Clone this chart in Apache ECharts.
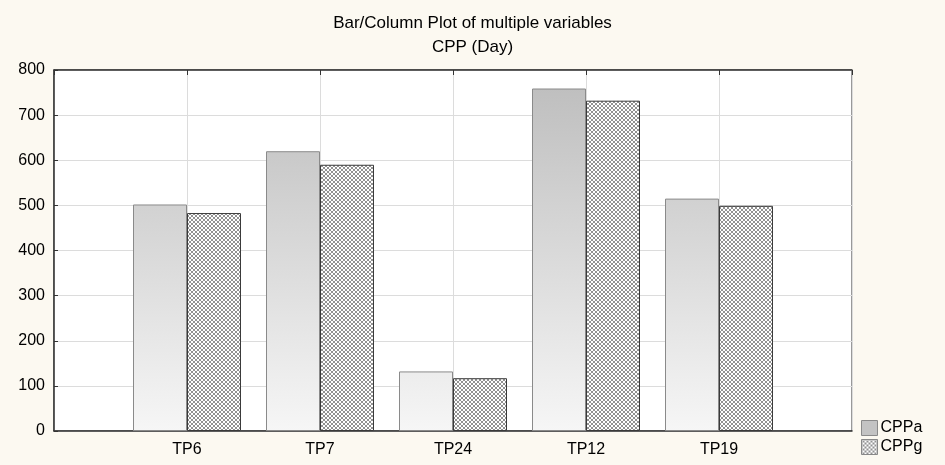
<!DOCTYPE html>
<html>
<head>
<meta charset="utf-8">
<script src="https://cdn.jsdelivr.net/npm/echarts@6/dist/echarts.min.js"></script>
<style>
html,body{margin:0;padding:0;background:#fcf9f1;}
#chart{width:945px;height:465px;}
</style>
</head>
<body>
<div id="chart"></div>
<script>
const categories = ['TP6', 'TP7', 'TP24', 'TP12', 'TP19'];
const cppa = [502, 620, 132, 759, 515];
const cppg = [483, 590, 117, 732, 499];
const yTicks = [0, 100, 200, 300, 400, 500, 600, 700, 800];

// padded category slots (empty slot at each end)
const cats = [''].concat(categories, ['']);
const pad = arr => [null].concat(arr, [null]);

// crosshatch pattern
const pc = document.createElement('canvas');
pc.width = 4; pc.height = 4;
const ctx = pc.getContext('2d');
ctx.fillStyle = '#ffffff';
ctx.fillRect(0, 0, 4, 4);
ctx.fillStyle = '#929292';
[[0,0],[1,1],[2,2],[3,3],[3,0],[2,1],[1,2],[0,3]].forEach(p => ctx.fillRect(p[0], p[1], 1, 1));

const font = 'Liberation Sans, Arial, sans-serif';
const gridTop = 70, gridBottom = 34, H = 465;
const chart = echarts.init(document.getElementById('chart'));
chart.setOption({
  backgroundColor: '#fcf9f1',
  animation: false,
  title: {
    text: 'Bar/Column Plot of multiple variables\nCPP (Day)',
    left: 'center',
    top: 6,
    padding: [5, 0, 5, 12],
    textStyle: { fontFamily: font, fontSize: 17, fontWeight: 'normal', color: '#000', lineHeight: 24 }
  },
  legend: {
    orient: 'vertical',
    left: 856,
    top: 415,
    itemWidth: 16,
    itemHeight: 15,
    itemGap: 3,
    icon: 'rect',
    textStyle: { fontFamily: font, fontSize: 16, color: '#000', padding: [0, 0, 0, -2] },
    data: [
      { name: 'CPPa', itemStyle: { color: '#c3c3c3', borderColor: '#8a8a8a', borderWidth: 1 } },
      { name: 'CPPg', itemStyle: { color: { image: pc, repeat: 'repeat' }, borderColor: '#888', borderWidth: 1 } }
    ]
  },
  grid: {
    left: 54, right: 93, top: gridTop, bottom: gridBottom,
    show: true, backgroundColor: '#ffffff', borderColor: '#333', borderWidth: 1
  },
  xAxis: [{
    type: 'category',
    data: cats,
    boundaryGap: false,
    axisLine: { show: true, lineStyle: { color: '#333', width: 1.5 } },
    axisTick: { show: false },
    axisLabel: { fontFamily: font, fontSize: 16, color: '#000', margin: 11 },
    splitLine: { show: true, lineStyle: { color: '#dcdcdc' } }
  }, {
    type: 'category',
    data: cats,
    position: 'top',
    boundaryGap: false,
    axisLine: { show: true, lineStyle: { color: '#333', width: 1.5 } },
    axisTick: { show: true, inside: true, length: 5, lineStyle: { color: '#333' } },
    axisLabel: { show: false },
    splitLine: { show: false }
  }],
  yAxis: {
    type: 'value',
    min: yTicks[0], max: yTicks[yTicks.length - 1], interval: 100,
    axisLine: { show: true, lineStyle: { color: '#333', width: 1.5 } },
    axisTick: { show: true, inside: true, length: 4, lineStyle: { color: '#333' } },
    axisLabel: { fontFamily: font, fontSize: 16, color: '#000', margin: 9 },
    splitLine: { show: true, lineStyle: { color: '#dcdcdc' } }
  },
  series: [{
    name: 'CPPa',
    type: 'bar',
    data: pad(cppa),
    barWidth: 54,
    barGap: '0%',
    itemStyle: {
      color: new echarts.graphic.LinearGradient(0, gridTop, 0, H - gridBottom, [
        { offset: 0, color: '#bcbcbc' },
        { offset: 1, color: '#f6f6f6' }
      ], true),
      borderColor: '#8a8a8a',
      borderWidth: 1
    }
  }, {
    name: 'CPPg',
    type: 'bar',
    data: pad(cppg),
    barWidth: 54,
    barGap: '0%',
    itemStyle: {
      color: { image: pc, repeat: 'repeat' },
      borderColor: '#3a3a3a',
      borderWidth: 1
    }
  }]
});
</script>
</body>
</html>
